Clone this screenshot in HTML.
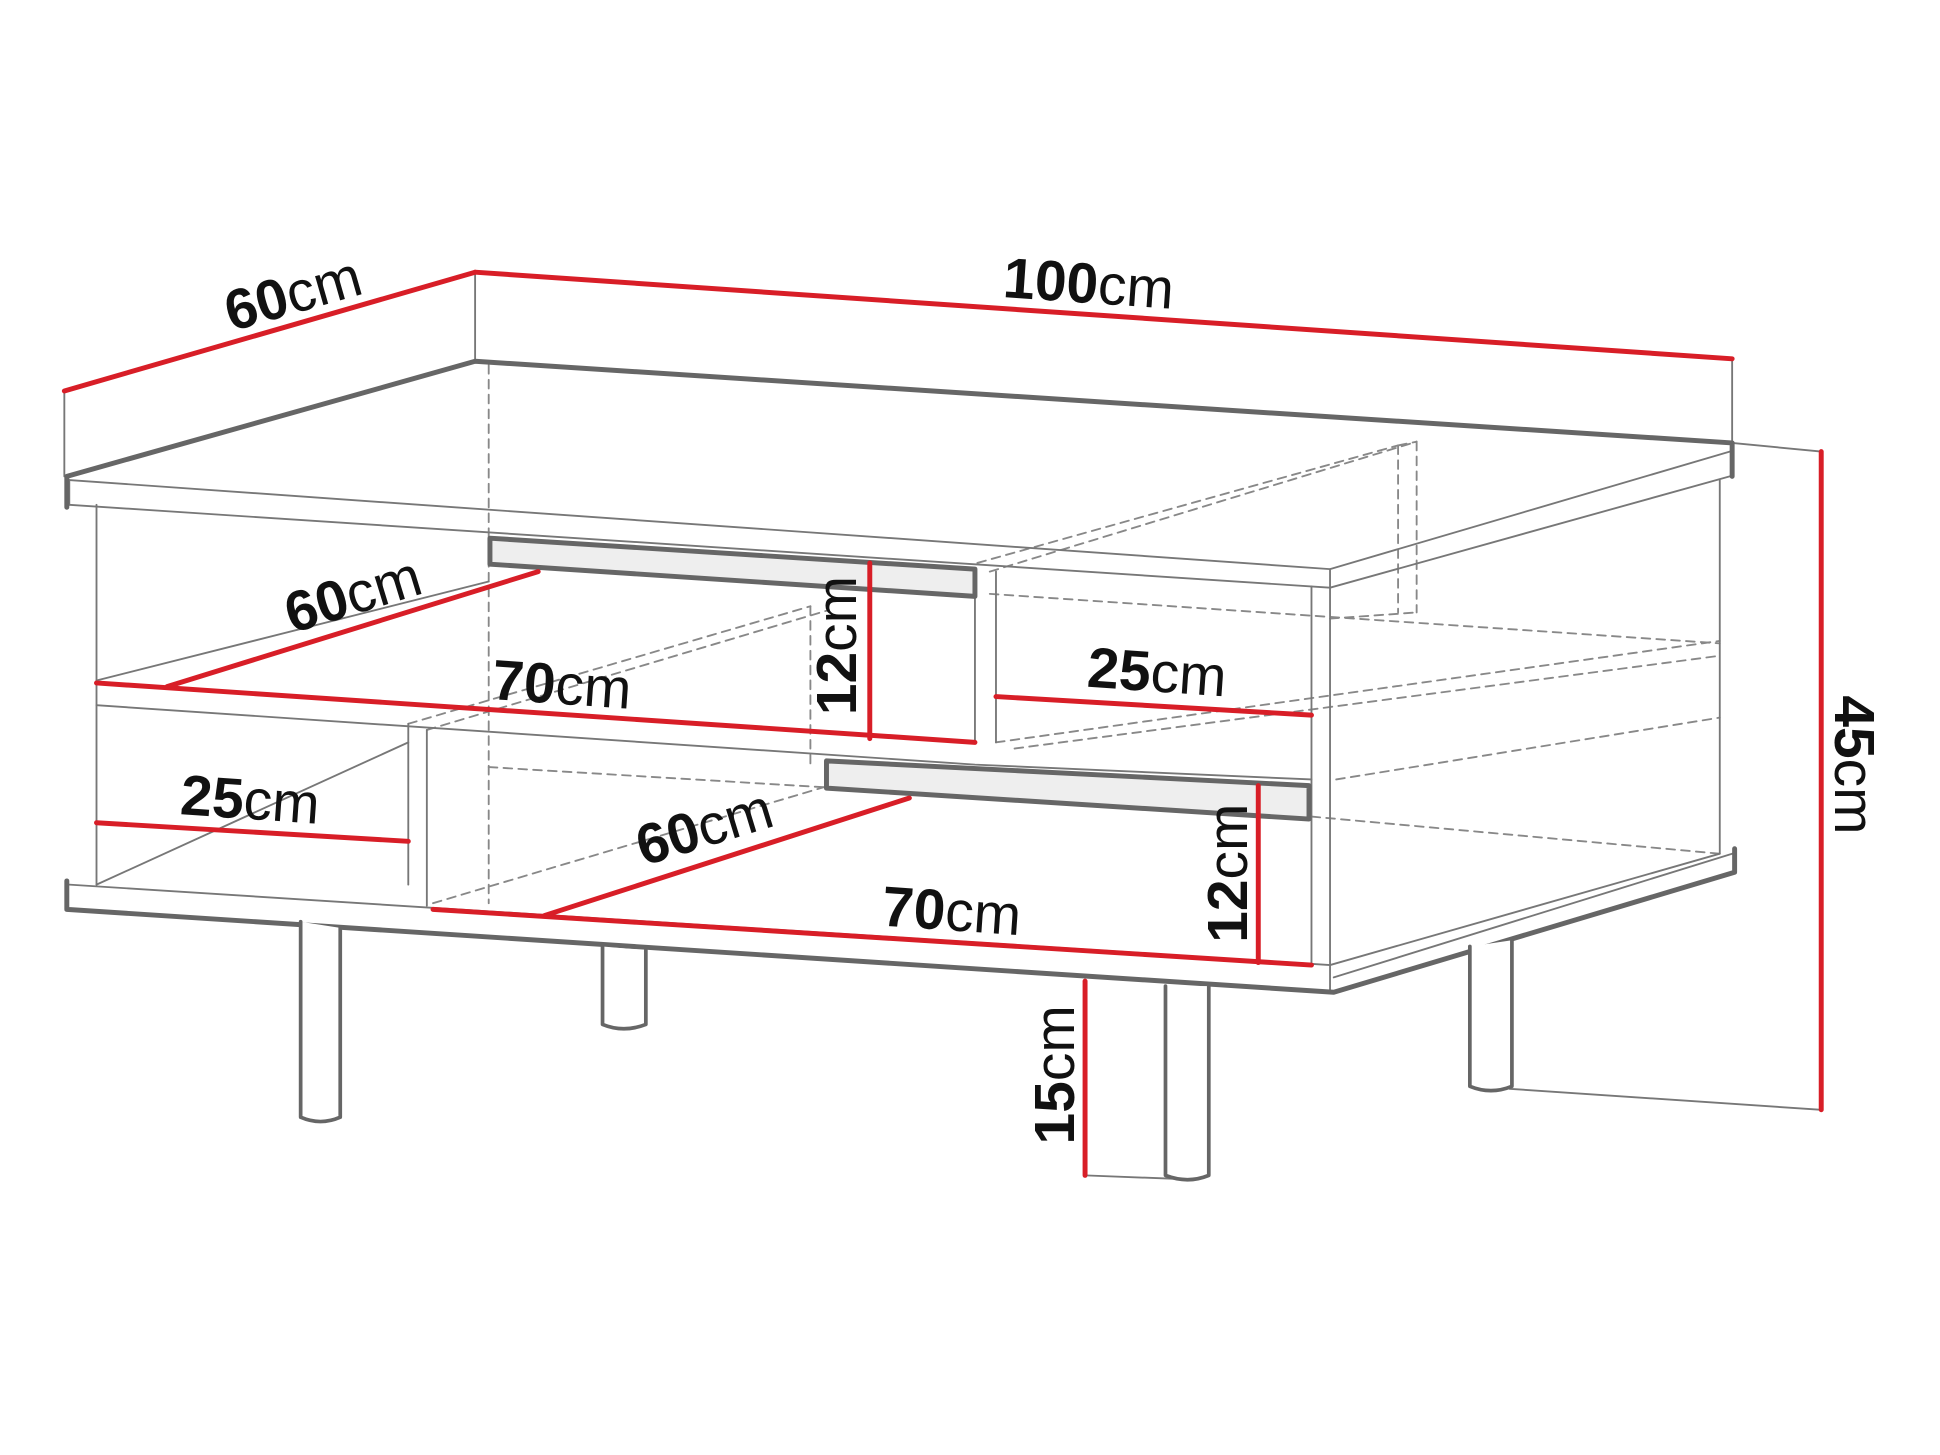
<!DOCTYPE html>
<html><head><meta charset="utf-8"><style>
html,body{margin:0;padding:0;background:#fff;width:1940px;height:1455px;overflow:hidden}
svg{display:block}
text{font-family:"Liberation Sans",sans-serif;font-size:46px;fill:#111}
.b{font-weight:bold}
</style></head><body>
<svg width="1940" height="1455" viewBox="0 0 1568 1176" preserveAspectRatio="none">
<g fill="none" stroke-linecap="round" stroke-linejoin="round">
<g stroke="#888" stroke-width="1.5" stroke-dasharray="7,5">
<line x1="395" y1="295" x2="395" y2="730"/>
<line x1="1130" y1="360" x2="1130" y2="495"/>
<line x1="1145" y1="357" x2="1145" y2="495"/>
<line x1="790" y1="455" x2="1130" y2="360"/>
<line x1="800" y1="462" x2="1145" y2="357"/>
<line x1="1130" y1="360" x2="1145" y2="357"/>
<line x1="800" y1="480" x2="1390" y2="520"/>
<line x1="1075" y1="500" x2="1145" y2="495"/>
<line x1="805" y1="600" x2="1390" y2="518"/>
<line x1="820" y1="605" x2="1390" y2="530"/>
<line x1="330" y1="585" x2="655" y2="490"/>
<line x1="345" y1="590" x2="670" y2="493"/>
<line x1="655" y1="490" x2="655" y2="620"/>
<line x1="395" y1="620" x2="1060" y2="660"/>
<line x1="1060" y1="660" x2="1390" y2="690"/>
<line x1="1080" y1="630" x2="1390" y2="580"/>
<line x1="350" y1="730" x2="670" y2="635"/>
</g>
<g stroke="#777" stroke-width="1.5">
<polyline points="56,388 1075,460 1398,365"/>
<polyline points="56,408 1075,475 1398,385"/>
<line x1="56" y1="388" x2="56" y2="408"/>
<line x1="78" y1="408" x2="78" y2="715"/>
<line x1="1075" y1="460" x2="1075" y2="800"/>
<line x1="1060" y1="474" x2="1060" y2="780"/>
<line x1="1390" y1="388" x2="1390" y2="690"/>
<polyline points="78,570 788,618 1060,630"/>
<line x1="78" y1="550" x2="395" y2="470"/>
<line x1="788" y1="460" x2="788" y2="600"/>
<line x1="805" y1="462" x2="805" y2="600"/>
<line x1="330" y1="585" x2="330" y2="715"/>
<line x1="345" y1="590" x2="345" y2="732"/>
<line x1="78" y1="715" x2="330" y2="600"/>
<polyline points="56,715 1075,780 1390,690"/>
<line x1="1078" y1="790" x2="1400" y2="690"/>
<line x1="1220" y1="880" x2="1472" y2="897"/>
<line x1="1400" y1="358" x2="1472" y2="365"/>
<line x1="877" y1="950" x2="955" y2="953"/>
<line x1="52" y1="316" x2="52" y2="385"/>
<line x1="384" y1="220" x2="384" y2="292"/>
<line x1="1400" y1="290" x2="1400" y2="358"/>
</g>
<g stroke="#666" stroke-width="4">
<polyline points="54,410 54,385 384,292 1400,358 1400,385"/>
<polyline points="54,712 54,735 1078,802 1402,705 1402,686"/>
<polygon points="396,435 788,460 788,482 396,456" fill="#eee"/>
<polygon points="668,615 1058,635 1058,662 668,637" fill="#eee"/>
</g>
<g stroke="#666" stroke-width="3" fill="#fff">
<path d="M243,745 V903 Q259,910 275,903 V750"/>
<path d="M487,765 V828 Q504,835 522,828 V768"/>
<path d="M942,797 V950 Q960,957 977,950 V797"/>
<path d="M1188,765 V878 Q1205,885 1222,878 V760"/>
</g>
<g stroke="#d81e27" stroke-width="4">
<line x1="52" y1="316" x2="384" y2="220"/>
<line x1="384" y1="220" x2="1400" y2="290"/>
<line x1="135" y1="555" x2="435" y2="462"/>
<line x1="78" y1="552" x2="788" y2="600"/>
<line x1="703" y1="455" x2="703" y2="597"/>
<line x1="805" y1="563" x2="1060" y2="578"/>
<line x1="78" y1="665" x2="330" y2="680"/>
<line x1="440" y1="740" x2="735" y2="645"/>
<line x1="350" y1="735" x2="1060" y2="780"/>
<line x1="1017" y1="635" x2="1017" y2="778"/>
<line x1="877" y1="793" x2="877" y2="950"/>
<line x1="1472" y1="365" x2="1472" y2="897"/>
</g>
</g>
<text transform="translate(187,268) rotate(-16)"><tspan class="b">60</tspan>cm</text>
<text transform="translate(810,240) rotate(4)"><tspan class="b">100</tspan>cm</text>
<text transform="translate(236,512) rotate(-17)"><tspan class="b">60</tspan>cm</text>
<text transform="translate(397,565) rotate(4)"><tspan class="b">70</tspan>cm</text>
<text transform="translate(692,578) rotate(-90)"><tspan class="b">12</tspan>cm</text>
<text transform="translate(878,555) rotate(4)"><tspan class="b">25</tspan>cm</text>
<text transform="translate(145,658) rotate(4)"><tspan class="b">25</tspan>cm</text>
<text transform="translate(520,700) rotate(-17)"><tspan class="b">60</tspan>cm</text>
<text transform="translate(712,748) rotate(4)"><tspan class="b">70</tspan>cm</text>
<text transform="translate(1008,762) rotate(-90)"><tspan class="b">12</tspan>cm</text>
<text transform="translate(868,925) rotate(-90)"><tspan class="b">15</tspan>cm</text>
<text transform="translate(1483,562) rotate(90)"><tspan class="b">45</tspan>cm</text>
</svg>
</body></html>
